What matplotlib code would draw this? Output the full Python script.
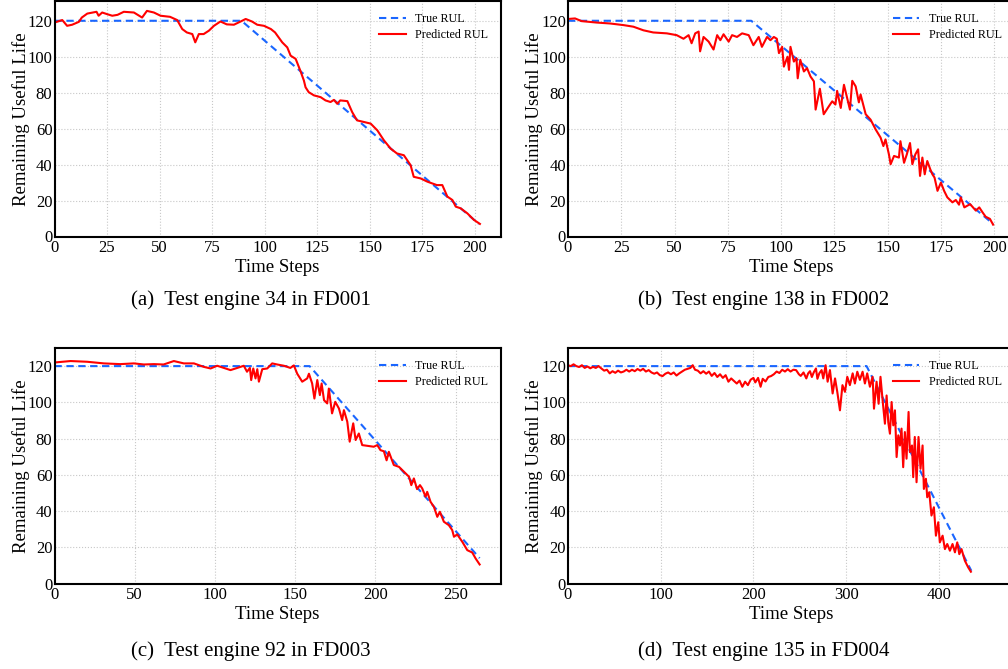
import matplotlib
matplotlib.use("Agg")
import matplotlib.pyplot as plt

plt.rcParams['font.family'] = ['Liberation Serif', 'DejaVu Serif']

# ---- (a) FD001 engine 34
true_x_a = [0, 89, 202]
true_y_a = [120, 120, 7]
x_a = [0, 3.7, 6, 8.4, 11.6, 13, 15.6, 20, 21, 22.7, 25, 27.5, 30, 33, 37.8, 41.7, 44, 47.3, 50.5, 55,
       58.4, 60.8, 63, 65.6, 67, 68.7, 71, 73.5, 75.9, 79, 82, 85.4, 88.6, 91, 94, 96.5, 99.7, 103, 105,
       108.4, 110.8, 112.4, 114.8, 117, 118.7, 119.5, 121, 123.5, 126.7, 129, 131.4, 133, 134.6, 136,
       139.4, 141.7, 144, 147.3, 150.5, 153.7, 156.8, 160, 163, 166.3, 169.5, 171, 174.3, 177.5, 182,
       184.6, 187, 189.4, 191, 193.3, 196.5, 199.7, 202.5]
y_a = [119, 120.4, 117.2, 117.8, 119.4, 121.8, 124, 125, 122.8, 124.6, 123.7, 122.8, 123.3, 125, 124.6,
       121.8, 125.5, 124.6, 122.8, 122.2, 120.4, 115.4, 113.5, 112.6, 108, 112.6, 112.6, 114.5, 117.2,
       119.6, 118, 117.8, 119.6, 121, 119.6, 117.8, 117.2, 115.4, 113.5, 108, 105.2, 100.6, 98.8, 92.3,
       86.8, 83, 80.3, 78.5, 77.5, 75.7, 74.8, 76, 73.8, 75.7, 75.3, 69.2, 64.6, 63.7, 62.8, 59, 53.5,
       48.9, 46.2, 45.2, 39.7, 33.2, 32.3, 30.5, 28.6, 28.6, 22.2, 20.3, 16.6, 15.7, 12.9, 9.2, 7]

# ---- (b) FD002 engine 138
true_x_b = [0, 86, 199.5]
true_y_b = [120, 120, 7]
x_b = [0, 3.3, 6.4, 13.5, 19.7, 26, 30.7, 35.4, 40, 46.4, 51, 54.2, 56.6, 58, 59.7, 61.3, 62, 63.6, 66,
       68.3, 70, 71.5, 73, 75.4, 77, 79.3, 81.7, 84.8, 87, 89.5, 91, 93.4, 95, 96.6, 98, 99, 100.5,
       101.3, 103, 103.7, 104.4, 106, 107.2, 107.8, 109, 110.7, 112.2, 113.8, 115.4, 116.2, 118.2, 120,
       122.4, 124, 125.5, 126.3, 128, 129.5, 131, 132.3, 133.4, 135, 136.5, 137.3, 139.7, 142, 144.4,
       146.7, 148, 149, 150.6, 151.4, 153, 155.3, 156, 157.7, 159, 160.5, 161.6, 163, 164.3, 165.2,
       166.3, 167.4, 168.6, 170, 171, 172, 173.4, 175, 176.5, 178, 180.4, 182, 183.5, 184.3, 186,
       188.7, 191.4, 193, 194.5, 196, 198, 199.5]
y_b = [121, 121.3, 119.8, 119, 118.5, 117.6, 116.7, 114.7, 113.5, 113, 112, 110, 112, 107.5, 113, 114,
       103, 111, 108.4, 104, 112, 109.2, 112.5, 108.4, 112, 111, 113, 112, 106.4, 111, 105.5, 111,
       109.2, 111, 110, 102, 105.5, 94.5, 100, 92.7, 105.5, 97.3, 99.2, 88, 98.3, 91.8, 93.6, 89, 86.3,
       70.6, 82.2, 68, 72.4, 75.2, 73.4, 81, 71.5, 84.4, 77, 70.6, 86.6, 83.5, 74.6, 79, 68, 65, 59.5,
       55, 50.3, 54, 45.7, 40.2, 44.8, 43.9, 53, 41, 45.7, 52, 40.2, 45.7, 48.5, 33.7, 43.9, 34.6, 42,
       37.4, 34.6, 32.8, 25.4, 30, 25.4, 21.8, 19, 20.3, 17.7, 21.8, 16.2, 18, 14.4, 16.2, 13.5, 11,
       9.8, 6.6]

# ---- (c) FD003 engine 92
true_x_c = [0, 159, 265]
true_y_c = [120, 120, 14]
x_c = [0, 10, 20.4, 30.8, 41, 49.5, 55.7, 62, 68, 74.4, 80.6, 86.9, 93, 97.3, 101.4, 105.6, 109.7,
       113.9, 118, 120, 121.8, 122.6, 123.9, 125.3, 126.4, 127.4, 129.5, 132.6, 135.7, 138.8, 143, 147,
       149.2, 151.3, 154.4, 157.5, 158.6, 160.6, 162, 163.8, 165.4, 166.5, 168, 170, 171, 173, 175,
       177.3, 179.3, 180.4, 182.5, 184, 186.2, 187.7, 189.7, 191.8, 195, 199, 201.2, 203.2, 205.3, 207,
       208.4, 211.5, 214.7, 217.8, 221, 222.4, 224, 226, 227.8, 229.2, 231.3, 232.3, 234.4, 236.5,
       238.6, 240.2, 242.7, 245.8, 247.9, 249, 251, 254.2, 257.3, 260.4, 262.5, 265]
y_c = [122, 122.8, 122.4, 121.5, 121.1, 121.5, 120.9, 121.1, 120.9, 122.8, 121.5, 121.5, 119.6, 118.7,
       120.2, 119, 117.8, 119, 120.2, 116.9, 119, 112.3, 118.7, 113.2, 118.3, 111.4, 118.3, 118.7,
       121.5, 120.9, 120.2, 119, 120.4, 115.8, 111.4, 113.2, 115.8, 110.4, 102.1, 112.3, 104, 110.4,
       101.2, 99.4, 107.6, 93.9, 100.3, 96.6, 90.2, 95.7, 89.3, 78.3, 88.4, 79.2, 82.8, 76.4, 76, 75.5,
       76.4, 73.6, 73, 68, 72.7, 65.4, 64.4, 61.7, 58.9, 54.3, 58, 52.1, 54.3, 52.5, 47.9, 50.6, 45.1,
       42.3, 36.8, 39.6, 34.1, 32.2, 29.5, 25.8, 27.1, 23, 18.4, 17.1, 13.8, 10.5]

# ---- (d) FD004 engine 135
true_x_d = [0, 322, 435]
true_y_d = [120, 120, 7]
x_d = [0, 3, 6, 9, 12, 15, 18, 21, 24, 27, 30, 33, 36, 39, 42, 45, 48, 51, 54, 57, 60, 63, 66, 69, 72,
       75, 78, 81, 84, 87, 90, 93, 96, 99, 102, 105, 108, 111, 114, 117, 120, 123, 126, 129, 132, 134.5,
       137, 140, 143, 146, 149, 152, 155, 158, 161, 164, 167, 170, 173, 176, 179, 182, 185, 188, 191,
       194, 197, 200, 202, 205, 207.7, 210, 213, 216, 219, 222, 225, 228, 231, 234, 237, 240, 243, 246,
       249, 251, 254, 257, 259, 261, 263, 265, 267.4, 269, 271, 273.5, 275.3, 277.8, 280,
       282.5, 285.4, 288, 290.4, 293.3, 296, 298.7, 301.2, 304,
       307, 309.4, 312, 314.8, 317.7, 320.2, 322.7, 325.6, 328.5, 330, 332.8, 335, 337, 339.3, 341.8,
       343.6, 345.4, 347.2, 349, 350.8, 352.6, 354.4, 356.2, 358, 359.7, 361.5, 363.3, 365.1, 367.3,
       368.7, 371, 372.3, 374, 375.9, 378, 380.2, 382.4, 383.8, 386, 387.4, 389.6, 392, 394.6, 396.8,
       399.3, 401, 404, 406.5, 409, 411.9, 414.7, 417.3, 419.8, 422, 424.4, 428, 431.6, 434.5]
y_d = [120.5, 120, 121, 120, 119.5, 120.5, 119, 119.8, 118.8, 119.6, 119, 120, 118.7, 117.5, 118, 116,
       117.2, 116.3, 117.5, 116.5, 117, 118, 117, 118, 117.2, 118.4, 117.5, 118.5, 117, 117.8, 116.5,
       115.8, 116.5, 115, 114.5, 115.8, 116.5, 115.5, 116.5, 114.8, 116, 117, 118, 118.5, 119, 120.5,
       118, 117.5, 116, 117.2, 115.8, 117, 114.6, 116.2, 114, 115.5, 113.5, 115, 111.4, 113.2, 111.8,
       110.4, 112, 108.6, 111.4, 109.5, 112.5, 113.5, 111, 113.5, 108.6, 113, 111.5, 114, 114.5, 115.5,
       117, 116.2, 118, 117, 118.3, 117, 118, 117.8, 115.5, 114.6, 116.5, 113.2, 116, 117.2, 114,
       116.5, 118.7, 113, 116, 117.8, 113.2, 120.5, 111.4,
       117.8, 104.9, 113.2, 105.8, 95.6, 109.5, 105.8, 114.1, 109.5,
       116, 110.4, 116.9, 112.4, 116.9, 110.4, 116, 108.6, 114.1, 96.5, 111.4, 99.2, 114.1, 101.1, 88.2,
       103.8, 89, 82.7, 100.2, 87.3, 95.6, 69.8, 81.8, 76.2, 85.5, 64.2, 83.6, 68.9, 94.7,
       72.5, 76.2, 58.7, 80.9, 55.9, 80.9, 63.3, 76.2, 52.2, 57.8, 47.6, 50.4, 37.5, 42.1, 26.4,
       33.8, 22.7, 26.4, 19, 21.8, 18.1, 21.8, 17.2, 22.7, 16.2, 19, 12.6, 8.9, 6.5]

panels = [
    (true_x_a, true_y_a, x_a, y_a, [0, 25, 50, 75, 100, 125, 150, 175, 200], 212.3, 131,
     "(a)  Test engine 34 in FD001"),
    (true_x_b, true_y_b, x_b, y_b, [0, 25, 50, 75, 100, 125, 150, 175, 200], 209.3, 131,
     "(b)  Test engine 138 in FD002"),
    (true_x_c, true_y_c, x_c, y_c, [0, 50, 100, 150, 200, 250], 278, 130,
     "(c)  Test engine 92 in FD003"),
    (true_x_d, true_y_d, x_d, y_d, [0, 100, 200, 300, 400], 481, 130,
     "(d)  Test engine 135 in FD004"),
]

W, H = 1008, 669
fig = plt.figure(figsize=(W / 100, H / 100), dpi=100)

# axes boxes in pixels: left, top, right, bottom
boxes = [(54.5, 1, 500.5, 236.5), (568, 1, 1014, 236.5),
         (54.5, 348, 500.5, 583.5), (568, 348, 1014, 583.5)]
caption_xy = [(251, 300), (764, 300), (251, 651), (764, 651)]

for (tx, ty, px, py, xt, xmax, ymax, cap), (l, t, r, b), (cx, cy) in zip(panels, boxes, caption_xy):
    ax = fig.add_axes([l / W, 1 - b / H, (r - l) / W, (b - t) / H])
    ax.plot(tx, ty, color='#1a66ff', linestyle='--', linewidth=1.5, label='True RUL', dashes=(3.5, 2.2))
    ax.plot(px, py, color='#ff0000', linewidth=1.5, label='Predicted RUL')
    ax.set_xlim(0, xmax)
    ax.set_ylim(0, ymax)
    ax.set_xticks(xt)
    ax.set_yticks([0, 20, 40, 60, 80, 100, 120])
    ax.tick_params(axis='x', length=0, labelsize=12, pad=2.5)
    ax.tick_params(axis='y', length=0, labelsize=12, pad=1.5)
    ax.grid(True, linestyle=':', color='#c8c8c8', linewidth=0.8)
    for s in ax.spines.values():
        s.set_linewidth(1.5)
        s.set_color('black')
    ax.set_xlabel('Time Steps', fontsize=13.5, labelpad=2)
    ax.set_ylabel('Remaining Useful Life', fontsize=13.5, labelpad=-1.5)
    ax.legend(loc='upper right', frameon=False, fontsize=8.7, handlelength=2.2,
              borderaxespad=0.6, labelspacing=0.35, handletextpad=0.8)
    fig.text(cx / W, 1 - cy / H, cap, ha='center', va='center', fontsize=15)

fig.savefig('out.png', dpi=100)
